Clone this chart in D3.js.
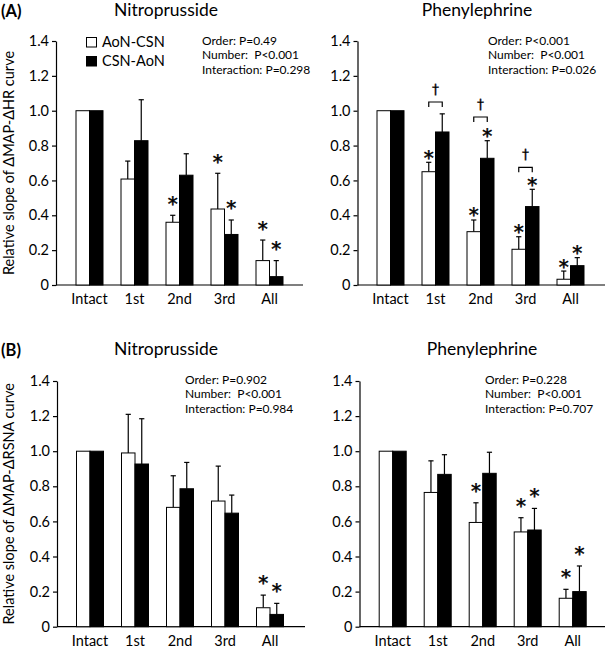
<!DOCTYPE html>
<html><head><meta charset="utf-8">
<script src="https://cdn.jsdelivr.net/npm/d3@7"></script>
<style>
body{margin:0;background:#fff}
svg{display:block}
text{font-family:Lato,"Liberation Sans",sans-serif;fill:#000}
text.star{font-family:"DejaVu Sans",sans-serif;stroke:#000;stroke-width:0.5;text-rendering:geometricPrecision}
text.dag{font-family:"DejaVu Sans",sans-serif;stroke:#000;stroke-width:0.3;text-rendering:geometricPrecision}
</style>
</head><body><svg id="c" width="609" height="648"></svg>
<script>
const categories = ["Intact","1st","2nd","3rd","All"];
const seriesNames = ["AoN-CSN","CSN-AoN"];
const yTicks = [0,0.2,0.4,0.6,0.8,1.0,1.2,1.4];

// (A) ΔMAP-ΔHR, Nitroprusside
const hrNitroAoN   = [1.00, 0.608, 0.360, 0.436, 0.140];
const hrNitroAoNSD = [null, 0.103, 0.040, 0.205, 0.118];
const hrNitroCSN   = [1.00, 0.828, 0.630, 0.290, 0.048];
const hrNitroCSNSD = [null, 0.235, 0.123, 0.083, 0.092];
const hrNitroStarAoN = [0,0,1,1,1];
const hrNitroStarCSN = [0,0,0,1,1];
const hrNitroStats = ["Order: P=0.49","Number:  P<0.001","Interaction: P=0.298"];

// (A) ΔMAP-ΔHR, Phenylephrine
const hrPheAoN   = [1.00, 0.650, 0.306, 0.205, 0.033];
const hrPheAoNSD = [null, 0.054, 0.067, 0.072, 0.047];
const hrPheCSN   = [1.00, 0.878, 0.727, 0.450, 0.111];
const hrPheCSNSD = [null, 0.104, 0.101, 0.099, 0.046];
const hrPheStarAoN = [0,1,1,1,1];
const hrPheStarCSN = [0,0,1,1,1];
const hrPheBracket = [null, 1.050, 0.964, 0.675, null];
const hrPheStats = ["Order: P<0.001","Number:  P<0.001","Interaction: P=0.026"];

// (B) ΔMAP-ΔRSNA, Nitroprusside
const rsnaNitroAoN   = [1.00, 0.990, 0.680, 0.716, 0.108];
const rsnaNitroAoNSD = [null, 0.220, 0.180, 0.199, 0.072];
const rsnaNitroCSN   = [1.00, 0.927, 0.786, 0.647, 0.070];
const rsnaNitroCSNSD = [null, 0.258, 0.150, 0.103, 0.063];
const rsnaNitroStarAoN = [0,0,0,0,1];
const rsnaNitroStarCSN = [0,0,0,0,1];
const rsnaNitroStats = ["Order: P=0.902","Number:  P<0.001","Interaction: P=0.984"];

// (B) ΔMAP-ΔRSNA, Phenylephrine
const rsnaPheAoN   = [1.00, 0.765, 0.594, 0.540, 0.162];
const rsnaPheAoNSD = [null, 0.180, 0.112, 0.081, 0.051];
const rsnaPheCSN   = [1.00, 0.868, 0.874, 0.551, 0.200];
const rsnaPheCSNSD = [null, 0.112, 0.120, 0.123, 0.146];
const rsnaPheStarAoN = [0,0,1,1,1];
const rsnaPheStarCSN = [0,0,0,1,1];
const rsnaPheStats = ["Order: P=0.228","Number:  P<0.001","Interaction: P=0.707"];

const panels = [
  {label:"(A)", title:"Nitroprusside", ytitle:"Relative slope of ΔMAP-ΔHR curve",
   aon:hrNitroAoN, aonSD:hrNitroAoNSD, csn:hrNitroCSN, csnSD:hrNitroCSNSD,
   starA:hrNitroStarAoN, starC:hrNitroStarCSN, stats:hrNitroStats, bracket:null, legend:true,
   ox:56, top:41, bottom:285, xEnd:303, firstC:89.5, titleX:166, titleY:16, statsX:202, statsY:44.5, starGap:16},
  {label:null, title:"Phenylephrine", ytitle:null,
   aon:hrPheAoN, aonSD:hrPheAoNSD, csn:hrPheCSN, csnSD:hrPheCSNSD,
   starA:hrPheStarAoN, starC:hrPheStarCSN, stats:hrPheStats, bracket:hrPheBracket, legend:false,
   ox:357.5, top:41, bottom:285, xEnd:605, firstC:390.5, titleX:477, titleY:16, statsX:488, statsY:44.5, starGap:9},
  {label:"(B)", title:"Nitroprusside", ytitle:"Relative slope of ΔMAP-ΔRSNA curve",
   aon:rsnaNitroAoN, aonSD:rsnaNitroAoNSD, csn:rsnaNitroCSN, csnSD:rsnaNitroCSNSD,
   starA:rsnaNitroStarAoN, starC:rsnaNitroStarCSN, stats:rsnaNitroStats, bracket:null, legend:false,
   ox:57, top:381, bottom:626.7, xEnd:305, firstC:90, titleX:166, titleY:355, statsX:185, statsY:383.5, starGap:16.5},
  {label:null, title:"Phenylephrine", ytitle:null,
   aon:rsnaPheAoN, aonSD:rsnaPheAoNSD, csn:rsnaPheCSN, csnSD:rsnaPheCSNSD,
   starA:rsnaPheStarAoN, starC:rsnaPheStarCSN, stats:rsnaPheStats, bracket:null, legend:false,
   ox:359.5, top:381, bottom:626.7, xEnd:605, firstC:392.7, titleX:482, titleY:355, statsX:485, statsY:383.5, starGap:16.5}
];

const svg = d3.select("#c");

panels.forEach(p => {
  const g = svg.append("g");
  const y = d3.scaleLinear().domain([0,1.4]).range([p.bottom, p.top]);
  const x = d3.scaleBand().domain(categories)
    .range([p.firstC - 22.5, p.firstC - 22.5 + 225])
    .paddingInner(0.4).paddingOuter(0.2);
  const xs = d3.scaleBand().domain(seriesNames).range([0, x.bandwidth()]);

  // titles
  if (p.label) g.append("text").attr("x", 1).attr("y", p.titleY + 1)
      .style("font-weight","bold").style("font-size","16.5px").text(p.label);
  g.append("text").attr("x", p.titleX).attr("y", p.titleY).attr("text-anchor","middle")
    .style("font-size","17.5px").text(p.title);

  // y axis
  const ya = g.append("g").attr("transform",`translate(${p.ox},0)`)
    .call(d3.axisLeft(y).tickValues(yTicks).tickSize(4).tickSizeOuter(0).tickPadding(3)
      .tickFormat(d => d === 0 ? "0" : d3.format(".1f")(d)));
  ya.selectAll("text").style("font-size","14.5px").style("font-family","Lato, 'Liberation Sans', sans-serif");
  ya.selectAll("path,line").attr("stroke","#000").attr("stroke-width",1.2);

  if (p.ytitle) g.append("text")
    .attr("transform",`translate(14,${(p.top+p.bottom)/2}) rotate(-90)`)
    .attr("text-anchor","middle").style("font-size","14.5px").text(p.ytitle);

  // x axis
  const xa = g.append("g").attr("transform",`translate(0,${p.bottom})`)
    .call(d3.axisBottom(x).tickSize(0).tickPadding(9));
  xa.select(".domain").remove();
  xa.selectAll("text").style("font-size","14.5px").style("font-family","Lato, 'Liberation Sans', sans-serif");
  g.append("line").attr("x1", p.ox).attr("x2", p.xEnd).attr("y1", p.bottom).attr("y2", p.bottom)
    .attr("stroke","#000").attr("stroke-width",1.2);

  const series = [
    {name:seriesNames[0], vals:p.aon, sd:p.aonSD, star:p.starA, fill:"#fff"},
    {name:seriesNames[1], vals:p.csn, sd:p.csnSD, star:p.starC, fill:"#000"}
  ];

  series.forEach(s => {
    categories.forEach((c,i) => {
      const bx = x(c) + xs(s.name), w = xs.bandwidth(), cx = bx + w/2;
      const v = s.vals[i], sd = s.sd[i];
      const topY = sd != null ? y(v+sd) : y(v);
      if (sd != null) {
        g.append("line").attr("x1",cx).attr("x2",cx).attr("y1",y(v)).attr("y2",y(v+sd))
          .attr("stroke","#000").attr("stroke-width",1.2);
        g.append("line").attr("x1",cx-2.6).attr("x2",cx+2.6).attr("y1",y(v+sd)).attr("y2",y(v+sd))
          .attr("stroke","#000").attr("stroke-width",1.2);
      }
      g.append("rect").attr("x",bx).attr("y",y(v)).attr("width",w).attr("height",y(0)-y(v))
        .attr("fill",s.fill).attr("stroke","#000").attr("stroke-width",1);
      if (s.star[i]) g.append("text").attr("class","star")
        .attr("transform",`translate(${cx},${topY - p.starGap + 11.5}) rotate(0.01)`)
        .attr("text-anchor","middle").style("font-size","20px").text("*");
    });
  });

  if (p.bracket) {
    categories.forEach((c,i) => {
      const b = p.bracket[i];
      if (b == null) return;
      const c1 = x(c) + xs(seriesNames[0]) + xs.bandwidth()/2;
      const c2 = x(c) + xs(seriesNames[1]) + xs.bandwidth()/2;
      const by = y(b);
      g.append("path").attr("d",`M${c1},${by+5}V${by}H${c2}V${by+5}`)
        .attr("fill","none").attr("stroke","#000").attr("stroke-width",1.2);
      g.append("text").attr("class","dag")
        .attr("transform",`translate(${(c1+c2)/2},${by-8}) rotate(0.01)`)
        .attr("text-anchor","middle").style("font-size","14px").text("†");
    });
  }

  // stats
  const st = g.append("text").style("font-size","12px").style("white-space","pre");
  p.stats.forEach((t,k) => st.append("tspan").attr("x",p.statsX).attr("y",p.statsY + k*14.5).text(t));

  // legend
  if (p.legend) {
    const lg = g.append("g");
    series.forEach((s,k) => {
      lg.append("rect").attr("x",86.5).attr("y",37.5 + k*19).attr("width",10).attr("height",9.5)
        .attr("fill",s.fill).attr("stroke","#000").attr("stroke-width",1);
      lg.append("text").attr("x",102).attr("y",47 + k*19).style("font-size","14.5px").text(s.name);
    });
  }
});
</script>
</body></html>
